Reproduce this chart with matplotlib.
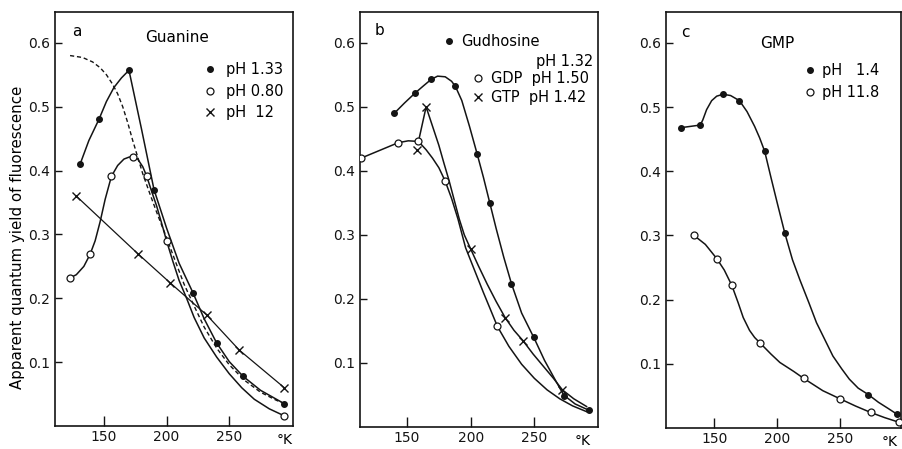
import matplotlib
matplotlib.use('Agg')
import matplotlib.pyplot as plt

# --- a: Guanine ---
a_ph133_T = [131, 146, 170, 190, 221, 240, 261, 294]
a_ph133_Q = [0.41, 0.48, 0.557, 0.37, 0.209, 0.13, 0.078, 0.035]
a_ph133_line_T = [131, 138, 146, 152, 158, 164, 170, 180, 190, 200, 210, 221, 230, 240, 250, 261, 275, 294]
a_ph133_line_Q = [0.41, 0.447, 0.48, 0.508, 0.53, 0.545, 0.557, 0.465, 0.37, 0.31, 0.255, 0.209, 0.168, 0.13, 0.101, 0.078, 0.056, 0.035]

a_ph080_T = [123, 139, 156, 173, 184, 200, 294]
a_ph080_Q = [0.232, 0.269, 0.391, 0.422, 0.392, 0.29, 0.016]
a_ph080_line_T = [123, 128, 134, 139, 143, 147, 151, 156, 161, 166, 170, 173, 177, 181, 184, 188,
                  192, 196, 200, 205, 210, 216, 222, 230, 240, 250, 260, 270, 282, 294]
a_ph080_line_Q = [0.232, 0.237, 0.25, 0.269, 0.29, 0.32, 0.355, 0.391, 0.408, 0.418, 0.421, 0.422,
                  0.418, 0.406, 0.392, 0.368, 0.345, 0.318, 0.29, 0.258, 0.228, 0.2, 0.17, 0.138,
                  0.108, 0.082, 0.06, 0.042, 0.027, 0.016]

a_ph12_T = [128, 177, 203, 232, 258, 294]
a_ph12_Q = [0.36, 0.27, 0.224, 0.174, 0.119, 0.06]

# dashed curve (no points)
a_dash_T = [123, 133, 141, 147, 152, 157, 161, 165, 169, 173, 181, 187, 193, 200, 207, 214, 222,
            230, 240, 250, 262, 275, 287, 295]
a_dash_Q = [0.58, 0.577, 0.57, 0.561, 0.55, 0.535, 0.52, 0.50, 0.475, 0.447, 0.395, 0.362, 0.33,
            0.295, 0.258, 0.222, 0.188, 0.155, 0.122, 0.096, 0.072, 0.053, 0.041, 0.034]

# --- b: nucleosides / nucleotides ---
b_guo_T = [140, 156, 169, 188, 205, 215, 232, 250, 273, 293]
b_guo_Q = [0.49, 0.521, 0.543, 0.532, 0.427, 0.35, 0.224, 0.14, 0.049, 0.026]
b_guo_line_T = [140, 148, 156, 163, 169, 174, 180, 185, 188, 193, 199, 205, 210, 215, 220, 226,
                232, 240, 250, 258, 266, 273, 282, 293]
b_guo_line_Q = [0.49, 0.506, 0.521, 0.533, 0.543, 0.548, 0.547, 0.54, 0.532, 0.51, 0.47, 0.427,
                0.39, 0.35, 0.31, 0.265, 0.224, 0.178, 0.138, 0.104, 0.075, 0.05, 0.036, 0.026]

b_gdp_T = [114, 143, 159, 180, 221]
b_gdp_Q = [0.42, 0.444, 0.446, 0.384, 0.157]
b_gdp_line_T = [114, 143, 151, 159, 165, 170, 175, 180, 185, 190, 196, 200, 205, 210, 215, 221,
                230, 240, 250, 260, 270, 280, 291]
b_gdp_line_Q = [0.42, 0.444, 0.447, 0.446, 0.433, 0.42, 0.405, 0.384, 0.357, 0.325, 0.28, 0.26,
                0.235, 0.21, 0.186, 0.157, 0.126, 0.098, 0.076, 0.058, 0.044, 0.033, 0.024]

b_gtp_T = [158, 165, 200, 227, 241, 272]
b_gtp_Q = [0.432, 0.50, 0.278, 0.171, 0.135, 0.058]
b_gtp_line_T = [159, 165, 170, 175, 179, 183, 187, 191, 195, 200, 206, 213, 220, 227, 234, 241,
                249, 257, 265, 272, 281, 291]
b_gtp_line_Q = [0.446, 0.50, 0.47, 0.44, 0.412, 0.385, 0.355, 0.325, 0.30, 0.278, 0.252, 0.223,
                0.196, 0.171, 0.151, 0.135, 0.114, 0.095, 0.076, 0.058, 0.044, 0.032]

# --- c: GMP ---
c_ph14_T = [124, 139, 157, 170, 190, 206, 272, 295]
c_ph14_Q = [0.468, 0.472, 0.52, 0.51, 0.431, 0.303, 0.052, 0.021]
c_ph14_line_T = [124, 139, 141, 144, 148, 152, 157, 163, 170, 176, 182, 186, 190, 195, 200, 206,
                 212, 218, 225, 231, 238, 244, 251, 257, 264, 272, 280, 288, 295]
c_ph14_line_Q = [0.468, 0.472, 0.48, 0.496, 0.51, 0.517, 0.52, 0.518, 0.51, 0.493, 0.47, 0.452,
                 0.431, 0.39, 0.35, 0.303, 0.262, 0.23, 0.195, 0.164, 0.136, 0.112, 0.092, 0.076,
                 0.062, 0.052, 0.04, 0.03, 0.021]

c_ph118_T = [134, 152, 164, 186, 221, 250, 274, 296]
c_ph118_Q = [0.30, 0.264, 0.222, 0.133, 0.077, 0.045, 0.024, 0.009]
c_ph118_line_T = [134, 143, 152, 158, 164, 169, 173, 178, 182, 186, 195, 202, 213, 221, 236, 250,
                  262, 274, 285, 296]
c_ph118_line_Q = [0.30, 0.286, 0.264, 0.246, 0.222, 0.195, 0.172, 0.152, 0.141, 0.133, 0.115,
                  0.102, 0.088, 0.077, 0.058, 0.045, 0.034, 0.024, 0.016, 0.009]

y_ticks = [0.1, 0.2, 0.3, 0.4, 0.5, 0.6]
x_ticks = [150, 200, 250]

plt.rcParams['font.family'] = ['DejaVu Sans']
ink = '#141414'

fig = plt.figure(figsize=(9.02, 4.49), dpi=100)
ax_a = fig.add_axes([0.061, 0.051, 0.264, 0.922])
ax_b = fig.add_axes([0.399, 0.049, 0.264, 0.924])
ax_c = fig.add_axes([0.738, 0.047, 0.261, 0.926])

dot = dict(marker='o', ms=4, mfc=ink, mec=ink, ls='none', zorder=3)
ring = dict(marker='o', ms=5, mfc='white', mec=ink, mew=0.9, ls='none', zorder=3)
cross = dict(marker='x', ms=6, mec=ink, mew=1.0, ls='none', zorder=3)
lw = 1.1

# a
ax_a.plot(a_ph133_line_T, a_ph133_line_Q, color=ink, lw=lw)
ax_a.plot(a_ph080_line_T, a_ph080_line_Q, color=ink, lw=lw)
ax_a.plot(a_ph12_T, a_ph12_Q, color=ink, lw=0.9)
ax_a.plot(a_dash_T, a_dash_Q, color=ink, lw=1.0, ls=(0, (3, 2)))
h1, = ax_a.plot(a_ph133_T, a_ph133_Q, label='pH 1.33', **dot)
h2, = ax_a.plot(a_ph080_T, a_ph080_Q, label='pH 0.80', **ring)
h3, = ax_a.plot(a_ph12_T, a_ph12_Q, label='pH  12', **cross)
ax_a.set_xlim(111, 301)
ax_a.legend(handles=[h1, h2, h3], loc='upper left', bbox_to_anchor=(0.619, 0.879),
            frameon=False, fontsize=10.5, handlelength=1.0, handletextpad=0.6,
            labelspacing=0.45, borderpad=0, borderaxespad=0)
ax_a.text(0.092, 0.954, 'a', transform=ax_a.transAxes, fontsize=11, ha='center', va='center')
ax_a.text(0.511, 0.939, 'Guanine', transform=ax_a.transAxes, fontsize=11, ha='center', va='center')
ax_a.set_ylabel('Apparent quantum yield of fluorescence', fontsize=10.8)
ax_a.yaxis.set_label_coords(-0.128, 0.455)

# b
ax_b.plot(b_guo_line_T, b_guo_line_Q, color=ink, lw=lw)
ax_b.plot(b_gdp_line_T, b_gdp_line_Q, color=ink, lw=lw)
ax_b.plot(b_gtp_line_T, b_gtp_line_Q, color=ink, lw=lw)
g1, = ax_b.plot(b_guo_T, b_guo_Q, label='Gudhosine', **dot)
g2, = ax_b.plot(b_gdp_T, b_gdp_Q, label='GDP  pH 1.50', **ring)
g3, = ax_b.plot(b_gtp_T, b_gtp_Q, label='GTP  pH 1.42', **cross)
ax_b.set_xlim(113, 300)
leg_b = ax_b.legend(handles=[g1], loc='upper left', bbox_to_anchor=(0.342, 0.948),
                    frameon=False, fontsize=10.5, handlelength=1.0, handletextpad=0.33,
                    borderpad=0, borderaxespad=0)
ax_b.add_artist(leg_b)
ax_b.legend(handles=[g2, g3], loc='upper left', bbox_to_anchor=(0.464, 0.858),
            frameon=False, fontsize=10.5, handlelength=1.0, handletextpad=0.39,
            labelspacing=0.26, borderpad=0, borderaxespad=0)
ax_b.text(0.739, 0.882, 'pH 1.32', transform=ax_b.transAxes, fontsize=10.5, ha='left', va='center')
ax_b.text(0.084, 0.955, 'b', transform=ax_b.transAxes, fontsize=11, ha='center', va='center')

# c
ax_c.plot(c_ph14_line_T, c_ph14_line_Q, color=ink, lw=lw)
ax_c.plot(c_ph118_line_T, c_ph118_line_Q, color=ink, lw=lw)
k1, = ax_c.plot(c_ph14_T, c_ph14_Q, label='pH   1.4', **dot)
k2, = ax_c.plot(c_ph118_T, c_ph118_Q, label='pH 11.8', **ring)
ax_c.set_xlim(111.6, 298)
ax_c.legend(handles=[k1, k2], loc='upper left', bbox_to_anchor=(0.581, 0.878),
            frameon=False, fontsize=10.5, handlelength=1.0, handletextpad=0.33,
            labelspacing=0.47, borderpad=0, borderaxespad=0)
ax_c.text(0.082, 0.952, 'c', transform=ax_c.transAxes, fontsize=11, ha='center', va='center')
ax_c.text(0.476, 0.925, 'GMP', transform=ax_c.transAxes, fontsize=11, ha='center', va='center')

for ax, kx in [(ax_a, 0.966), (ax_b, 0.937), (ax_c, 0.95)]:
    ax.set_ylim(0, 0.648)
    ax.set_xticks(x_ticks)
    ax.set_yticks(y_ticks)
    ax.set_yticklabels(['%.1f' % v for v in y_ticks])
    ax.tick_params(axis='x', direction='in', length=7, width=1.0, pad=3, labelsize=10, colors=ink)
    ax.tick_params(axis='y', direction='in', length=5, width=1.0, pad=3.5, labelsize=10, colors=ink)
    for s in ax.spines.values():
        s.set_linewidth(1.2)
        s.set_color(ink)
    ax.text(kx, -0.033, '°K', transform=ax.transAxes, fontsize=10, ha='center', va='center')

fig.savefig('out.png', dpi=100)
